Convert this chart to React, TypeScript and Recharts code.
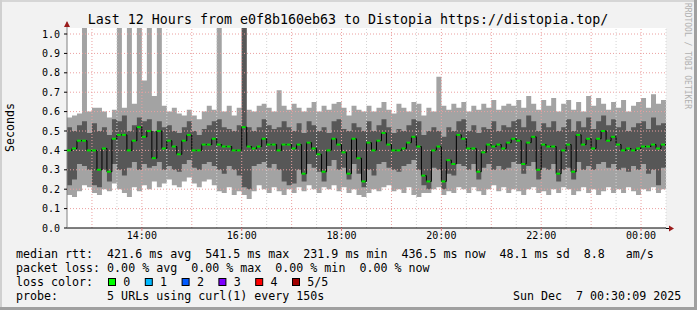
import { ComposedChart, Area, Line, XAxis, YAxis, CartesianGrid, ReferenceLine } from 'recharts';

// 120 samples, 6 minutes each, starting 12:30
const smokeMin = [
  0.17, 0.16, 0.19, 0.22, 0.21, 0.18, 0.17, 0.20, 0.19, 0.23,
  0.20, 0.18, 0.16, 0.21, 0.19, 0.22, 0.20, 0.24, 0.21, 0.23,
  0.25, 0.22, 0.21, 0.24, 0.26, 0.23, 0.21, 0.24, 0.25, 0.22,
  0.19, 0.18, 0.21, 0.17, 0.19, 0.17, 0.15, 0.19, 0.22, 0.20,
  0.18, 0.21, 0.19, 0.17, 0.20, 0.18, 0.21, 0.19, 0.22, 0.20,
  0.18, 0.21, 0.20, 0.22, 0.19, 0.21, 0.18, 0.20, 0.17, 0.16,
  0.18, 0.20, 0.19, 0.21, 0.22, 0.19, 0.20, 0.18, 0.21, 0.17,
  0.16, 0.18, 0.18, 0.20, 0.21, 0.17, 0.19, 0.18, 0.21, 0.20,
  0.18, 0.21, 0.19, 0.17, 0.20, 0.22, 0.19, 0.21, 0.18, 0.20,
  0.19, 0.17, 0.20, 0.21, 0.18, 0.19, 0.17, 0.20, 0.18, 0.21,
  0.20, 0.17, 0.19, 0.21, 0.18, 0.20, 0.17, 0.19, 0.21, 0.18,
  0.20, 0.18, 0.21, 0.19, 0.17, 0.20, 0.19, 0.21, 0.18, 0.20,
];
const smokeLow = [
  0.22, 0.25, 0.33, 0.32, 0.30, 0.22, 0.21, 0.30, 0.24, 0.33,
  0.30, 0.27, 0.31, 0.34, 0.30, 0.33, 0.31, 0.32, 0.34, 0.30,
  0.32, 0.30, 0.29, 0.33, 0.35, 0.31, 0.30, 0.33, 0.34, 0.32,
  0.30, 0.28, 0.32, 0.30, 0.27, 0.21, 0.20, 0.32, 0.33, 0.34,
  0.31, 0.33, 0.30, 0.24, 0.22, 0.23, 0.30, 0.24, 0.33, 0.31,
  0.29, 0.24, 0.32, 0.35, 0.30, 0.31, 0.25, 0.33, 0.28, 0.21,
  0.30, 0.27, 0.33, 0.34, 0.31, 0.30, 0.29, 0.32, 0.33, 0.35,
  0.30, 0.22, 0.20, 0.31, 0.30, 0.20, 0.28, 0.27, 0.33, 0.32,
  0.30, 0.33, 0.25, 0.31, 0.33, 0.30, 0.32, 0.30, 0.31, 0.34,
  0.33, 0.28, 0.32, 0.34, 0.25, 0.31, 0.30, 0.33, 0.24, 0.30,
  0.31, 0.25, 0.34, 0.30, 0.32, 0.30, 0.33, 0.34, 0.31, 0.33,
  0.30, 0.31, 0.29, 0.32, 0.30, 0.33, 0.28, 0.30, 0.22, 0.31,
];
const medianRtt = [
  0.40, 0.41, 0.45, 0.45, 0.40, 0.40, 0.30, 0.41, 0.29, 0.46,
  0.48, 0.48, 0.40, 0.45, 0.52, 0.47, 0.50, 0.36, 0.50, 0.41,
  0.45, 0.42, 0.38, 0.45, 0.48, 0.40, 0.40, 0.43, 0.43, 0.46,
  0.43, 0.42, 0.42, 0.40, 0.40, 0.52, 0.42, 0.41, 0.42, 0.46,
  0.43, 0.43, 0.40, 0.43, 0.43, 0.41, 0.43, 0.28, 0.44, 0.41,
  0.38, 0.29, 0.40, 0.46, 0.43, 0.39, 0.28, 0.46, 0.36, 0.24,
  0.44, 0.40, 0.45, 0.49, 0.43, 0.40, 0.40, 0.41, 0.44, 0.47,
  0.42, 0.27, 0.24, 0.40, 0.42, 0.24, 0.35, 0.33, 0.48, 0.46,
  0.41, 0.41, 0.29, 0.39, 0.43, 0.42, 0.43, 0.41, 0.44, 0.46,
  0.45, 0.33, 0.44, 0.47, 0.30, 0.43, 0.42, 0.42, 0.28, 0.40,
  0.43, 0.29, 0.48, 0.43, 0.46, 0.41, 0.46, 0.50, 0.45, 0.47,
  0.43, 0.40, 0.41, 0.40, 0.41, 0.42, 0.42, 0.43, 0.41, 0.43,
];
const smokeHigh = [
  0.52, 0.50, 0.53, 0.55, 0.49, 0.54, 0.50, 0.52, 0.48, 0.56,
  0.55, 0.58, 0.50, 0.53, 0.57, 0.55, 0.56, 0.50, 0.55, 0.52,
  0.53, 0.50, 0.49, 0.52, 0.55, 0.50, 0.48, 0.51, 0.53, 0.55,
  0.56, 0.52, 0.51, 0.50, 0.53, 1.05, 0.52, 0.50, 0.52, 0.56,
  0.53, 0.51, 0.52, 0.55, 0.52, 0.50, 0.54, 0.49, 0.55, 0.53,
  0.50, 0.52, 0.49, 0.55, 0.56, 0.51, 0.50, 0.54, 0.52, 0.50,
  0.55, 0.50, 0.53, 0.56, 0.52, 0.49, 0.51, 0.50, 0.53, 0.56,
  0.55, 0.48, 0.50, 0.52, 0.50, 0.47, 0.52, 0.50, 0.55, 0.56,
  0.50, 0.53, 0.49, 0.52, 0.51, 0.55, 0.50, 0.53, 0.52, 0.55,
  0.56, 0.52, 0.58, 0.55, 0.50, 0.54, 0.52, 0.55, 0.50, 0.52,
  0.56, 0.50, 0.55, 0.52, 0.57, 0.51, 0.55, 0.58, 0.53, 0.56,
  0.52, 0.55, 0.50, 0.52, 0.54, 0.55, 0.51, 0.57, 0.53, 0.54,
];
const smokeMax = [
  0.57, 0.58, 0.59, 1.05, 0.60, 0.62, 0.62, 0.60, 0.57, 0.61,
  1.05, 0.62, 1.05, 0.64, 1.05, 0.76, 1.05, 0.68, 1.05, 0.63,
  0.60, 0.62, 0.59, 0.58, 0.61, 0.58, 0.56, 0.60, 0.63, 0.61,
  1.05, 0.60, 0.63, 0.58, 0.62, 1.05, 0.61, 0.60, 0.63, 0.64,
  0.62, 0.60, 0.71, 0.63, 0.61, 0.64, 0.62, 0.60, 0.62, 0.65,
  0.60, 0.63, 0.61, 0.64, 0.65, 0.62, 0.58, 0.63, 0.61, 0.60,
  0.63, 0.60, 0.62, 0.65, 0.61, 0.59, 0.64, 0.62, 0.60, 0.65,
  0.64, 0.58, 0.62, 0.60, 0.78, 0.63, 0.61, 0.64, 0.62, 0.65,
  0.60, 0.63, 0.61, 0.64, 0.62, 0.66, 0.61, 0.63, 0.64, 0.63,
  0.66, 0.62, 0.68, 0.64, 0.61, 0.66, 0.63, 0.67, 0.60, 0.64,
  0.66, 0.61, 0.65, 0.60, 0.68, 0.63, 0.67, 0.64, 0.61, 0.65,
  0.62, 0.66, 0.60, 0.63, 0.65, 0.67, 0.62, 0.69, 0.64, 0.66,
];

const STEP = 6; // minutes per sample
const hourTicks = [90, 210, 330, 450, 570, 690];
const hourLabels = ['14:00', '16:00', '18:00', '20:00', '22:00', '00:00'];
const hourLines = [30, 90, 150, 210, 270, 330, 390, 450, 510, 570, 630, 690];
const halfHourLines = [60, 120, 180, 240, 300, 360, 420, 480, 540, 600, 660, 720];
const yTicks = [0, 0.1, 0.2, 0.3, 0.4, 0.5, 0.6, 0.7, 0.8, 0.9, 1.0];

const legendLines = [
  'median rtt:  421.6 ms avg  541.5 ms max  231.9 ms min  436.5 ms now  48.1 ms sd  8.8   am/s',
  'packet loss: 0.00 % avg  0.00 % max  0.00 % min  0.00 % now',
  'loss color:',
  'probe:       5 URLs using curl(1) every 150s',
];
const lossColors = ['#00ff00', '#00b8ff', '#0059ff', '#7e00ff', '#ff0000', '#a00000'];
const lossLabels = ['0', '1', '2', '3', '4', '5/5'];

const MONO = "'DejaVu Sans Mono', monospace";

const data = medianRtt.map((m, i) => ({
  t: i * STEP,
  light: [smokeMin[i], smokeMax[i]],
  dark: [smokeLow[i], smokeHigh[i]],
  med: m,
}));
data.push({ ...data[data.length - 1], t: medianRtt.length * STEP });

const MedianDot = (props: any) => {
  const { cx, cy, index } = props;
  if (index >= medianRtt.length || cx == null || cy == null) return <g key={'d' + index} />;
  return <rect key={'d' + index} x={cx} y={cy - 1} width={4} height={2} fill="#00e000" />;
};

export default function App() {
  return (
    <div style={{ position: 'absolute', left: 0, top: 0, width: 697, height: 310, background: '#f2f2f2' }}>
      <ComposedChart
        width={697}
        height={310}
        data={data}
        margin={{ top: 28, right: 31, left: 7, bottom: 52 }}
      >
        <CartesianGrid fill="#ffffff" stroke="none" horizontal={false} vertical={false} />
        <XAxis
          dataKey="t"
          type="number"
          domain={[0, 720]}
          ticks={hourTicks}
          tickFormatter={(v) => hourLabels[hourTicks.indexOf(v)]}
          axisLine={{ stroke: '#000' }}
          tickLine={{ stroke: '#e08080' }}
          tickSize={3}
          tickMargin={1}
          tick={{ fontSize: 10, fill: '#000', fontFamily: MONO }}
          allowDataOverflow
        />
        <YAxis
          type="number"
          domain={[0, 1.031]}
          ticks={yTicks}
          interval={0}
          width={60}
          tickFormatter={(v) => v.toFixed(1)}
          axisLine={{ stroke: '#808080' }}
          tickLine={{ stroke: '#000' }}
          tickSize={3}
          tickMargin={4}
          tick={{ fontSize: 10, fill: '#000', fontFamily: MONO }}
          allowDataOverflow
        />
        <Area dataKey="light" type="stepAfter" stroke="none" fill="#a3a3a3" fillOpacity={1} isAnimationActive={false} />
        <Area dataKey="dark" type="stepAfter" stroke="none" fill="#575757" fillOpacity={1} isAnimationActive={false} />
        {yTicks.slice(1).map((y) => (
          <ReferenceLine key={'h' + y} y={y} stroke="#eba0a0" strokeDasharray="1 2" />
        ))}
        {halfHourLines.map((x) => (
          <ReferenceLine key={'m' + x} x={x} stroke="#d4d4d4" strokeDasharray="1 2" />
        ))}
        {hourLines.map((x) => (
          <ReferenceLine key={'r' + x} x={x} stroke="#eba0a0" strokeDasharray="1 2" />
        ))}
        <Line dataKey="med" type="stepAfter" stroke="#000" strokeWidth={1} dot={MedianDot} activeDot={false} isAnimationActive={false} />
      </ComposedChart>
      <svg width={697} height={310} style={{ position: 'absolute', left: 0, top: 0, pointerEvents: 'none' }}>
        <rect x={0} y={0} width={697} height={2} fill="#d6d6d6" />
        <rect x={0} y={0} width={2} height={310} fill="#d0d0d0" />
        <rect x={694} y={0} width={3} height={310} fill="#a0a0a0" />
        <rect x={0} y={307} width={697} height={3} fill="#a0a0a0" />
        <line x1={67} y1={22} x2={67} y2={28} stroke="#808080" />
        <polygon points="64,27 67,21 70,27" fill="#9b1c1c" />
        <line x1={666} y1={228.5} x2={669} y2={228.5} stroke="#000" />
        <polygon points="669,225.5 674,228.5 669,231.5" fill="#9b1c1c" />
        <text x={348} y={24} textAnchor="middle" fontFamily={MONO} fontSize={13.3} fill="#000">
          Last 12 Hours from e0f8b160eb63 to Distopia https://distopia.top/
        </text>
        <text transform="translate(14,127.5) rotate(-90)" textAnchor="middle" fontFamily={MONO} fontSize={11.6} fill="#000">
          Seconds
        </text>
        <text transform="translate(685,56) rotate(90)" textAnchor="middle" fontFamily={MONO} fontSize={8} fill="#b0b0b0">
          RRDTOOL / TOBI OETIKER
        </text>
        {legendLines.map((l, i) => (
          <text key={l} x={16} y={258 + i * 14} fontFamily={MONO} fontSize={11.65} fill="#000" style={{ whiteSpace: 'pre' }}>
            {l}
          </text>
        ))}
        {lossColors.map((c, i) => (
          <g key={c}>
            <rect x={108.5 + i * 36.8} y={278.5} width={7} height={7} fill={c} stroke="#000" />
            <text x={123.3 + i * 36.8} y={286} fontFamily={MONO} fontSize={11.65} fill="#000">
              {lossLabels[i]}
            </text>
          </g>
        ))}
        <text x={513} y={300} fontFamily={MONO} fontSize={11.65} fill="#000" style={{ whiteSpace: 'pre' }}>
          Sun Dec  7 00:30:09 2025
        </text>
      </svg>
    </div>
  );
}
